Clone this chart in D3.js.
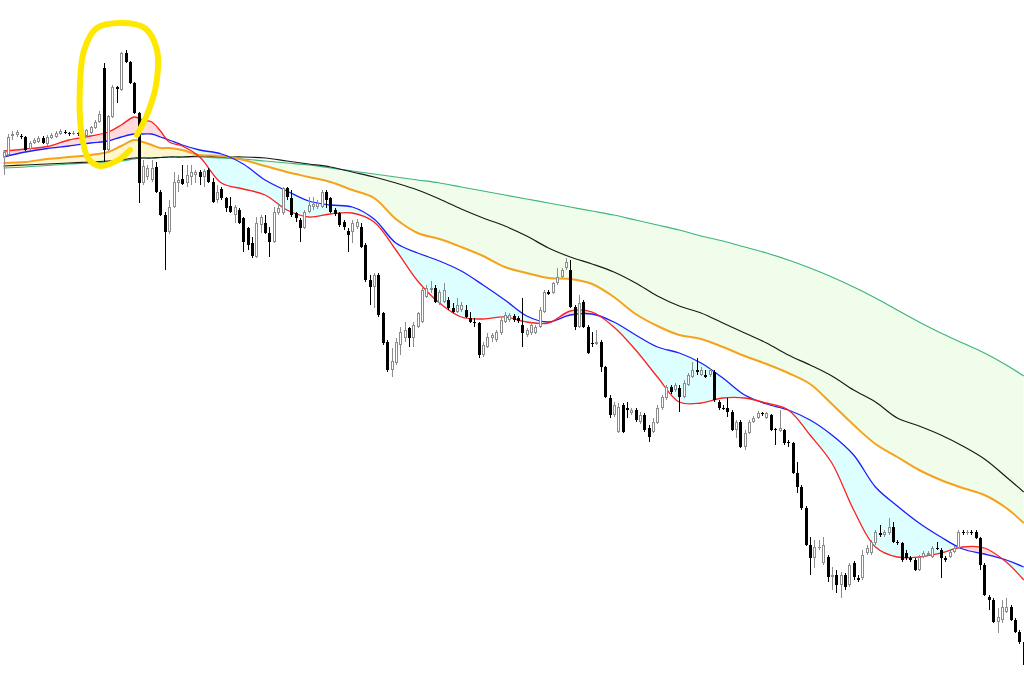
<!DOCTYPE html>
<html>
<head>
<meta charset="utf-8">
<script src="https://cdn.jsdelivr.net/npm/d3@7"></script>
<style>
    html, body { margin: 0; padding: 0; background: #fff; overflow: hidden; }
    #chart-first { width: 1024px; height: 688px; }
</style>
</head>
<body>
<div id="chart-first"></div>
<script>
//Velas (precio)
let openData = [
    148.43, 148.45, 148.64, 148.65, 148.64, 148.63, 148.51, 148.57, 148.58, 148.62,
    148.56, 148.62, 148.63, 148.66, 148.68, 148.67, 148.66, 148.67, 148.64, 148.64,
    148.67, 148.72, 148.78, 149.32, 148.50, 148.83, 149.13, 149.10, 149.47, 149.38,
    149.17, 148.87, 148.17, 148.23, 148.20, 148.33, 148.08, 147.85, 147.68, 147.93,
    148.17, 148.21, 148.17, 148.23, 148.25, 148.28, 148.23, 148.30, 148.18, 148.00,
    148.11, 148.02, 147.94, 147.85, 147.90, 147.82, 147.72, 147.57, 147.43, 147.75,
    147.77, 147.67, 147.58, 147.87, 147.87, 148.12, 148.02, 147.87, 147.80, 147.72,
    147.88, 147.93, 147.93, 147.93, 148.08, 148.02, 147.90, 147.87, 147.78, 147.69,
    147.68, 147.73, 147.73, 147.55, 147.20, 147.13, 147.25, 146.87, 146.58, 146.30,
    146.37, 146.55, 146.62, 146.72, 146.62, 146.73, 146.78, 147.03, 147.10, 147.12,
    146.97, 146.98, 147.00, 146.92, 146.88, 146.90, 146.90, 146.82, 146.78, 146.77,
    146.45, 146.53, 146.62, 146.60, 146.67, 146.78, 146.80, 146.84, 146.82, 146.75,
    146.65, 146.67, 146.67, 146.73, 146.88, 147.08, 147.07, 147.17, 147.23, 147.32,
    147.30, 146.93, 146.73, 146.98, 146.73, 146.57, 146.56, 146.58, 146.33, 146.02,
    145.85, 145.68, 145.95, 145.92, 145.87, 145.90, 145.78, 145.85, 145.72, 145.68,
    145.77, 145.92, 146.02, 146.13, 146.10, 146.12, 146.03, 146.15, 146.23, 146.30,
    146.25, 146.25, 146.25, 146.28, 145.98, 145.92, 145.92, 145.88, 145.70, 145.78,
    145.53, 145.67, 145.78, 145.82, 145.87, 145.82, 145.85, 145.71, 145.69, 145.70,
    145.58, 145.57, 145.27, 145.13, 144.92, 144.55, 144.42, 144.52, 144.37, 144.43,
    144.23, 144.25, 144.15, 144.25, 144.15, 144.37, 144.22, 144.22, 144.47, 144.47,
    144.57, 144.67, 144.65, 144.67, 144.73, 144.58, 144.57, 144.47, 144.42, 144.40,
    144.30, 144.43, 144.45, 144.43, 144.52, 144.50, 144.42, 144.43, 144.48, 144.52,
    144.68, 144.67, 144.68, 144.68, 144.62, 144.35, 144.03, 144.00, 143.78, 143.80,
    143.88, 143.93, 143.80, 143.68, 143.58
];
let highData = [
    148.50, 148.66, 148.69, 148.70, 148.66, 148.64, 148.59, 148.62, 148.64, 148.64,
    148.65, 148.67, 148.69, 148.71, 148.70, 148.68, 148.69, 148.68, 148.69, 148.71,
    148.74, 148.80, 148.89, 149.37, 148.85, 149.15, 149.14, 149.48, 149.50, 149.39,
    149.18, 148.88, 148.40, 148.35, 148.40, 148.38, 148.10, 147.88, 148.00, 148.28,
    148.25, 148.35, 148.35, 148.35, 148.30, 148.30, 148.31, 148.32, 148.22, 148.15,
    148.13, 148.03, 148.03, 147.95, 147.92, 147.83, 147.73, 147.63, 147.83, 147.85,
    147.85, 147.73, 147.93, 147.97, 148.13, 148.13, 148.10, 147.88, 147.82, 147.90,
    148.03, 148.03, 148.00, 148.10, 148.10, 148.03, 147.92, 147.88, 147.80, 147.72,
    147.80, 147.81, 147.77, 147.57, 147.25, 147.27, 147.27, 146.88, 146.60, 146.52,
    146.62, 146.73, 146.78, 146.73, 146.78, 146.88, 147.12, 147.15, 147.19, 147.15,
    147.10, 147.17, 147.03, 146.97, 147.02, 146.98, 146.95, 146.88, 146.82, 146.78,
    146.58, 146.67, 146.67, 146.70, 146.82, 146.88, 146.87, 146.86, 146.84, 147.02,
    146.72, 146.78, 146.75, 146.93, 147.10, 147.10, 147.18, 147.32, 147.32, 147.42,
    147.40, 146.95, 147.05, 147.00, 146.75, 146.68, 146.70, 146.60, 146.34, 146.05,
    145.98, 145.97, 145.97, 145.98, 145.92, 145.92, 145.88, 145.87, 145.75, 145.82,
    145.95, 146.05, 146.15, 146.15, 146.17, 146.15, 146.20, 146.27, 146.38, 146.42,
    146.33, 146.30, 146.32, 146.30, 146.00, 145.95, 146.02, 145.90, 145.80, 145.80,
    145.70, 145.80, 145.84, 145.89, 145.88, 145.88, 145.86, 145.72, 145.90, 145.71,
    145.60, 145.58, 145.38, 145.15, 144.94, 144.63, 144.60, 144.60, 144.63, 144.45,
    144.33, 144.30, 144.28, 144.27, 144.37, 144.39, 144.25, 144.50, 144.55, 144.60,
    144.70, 144.75, 144.70, 144.82, 144.78, 144.60, 144.58, 144.50, 144.44, 144.42,
    144.45, 144.49, 144.49, 144.54, 144.58, 144.52, 144.44, 144.50, 144.54, 144.70,
    144.70, 144.70, 144.70, 144.70, 144.63, 144.37, 144.05, 144.02, 143.92, 144.00,
    144.02, 143.95, 143.82, 143.70, 143.60
];
let lowData = [
    148.25, 148.43, 148.60, 148.63, 148.61, 148.49, 148.50, 148.56, 148.57, 148.56,
    148.54, 148.61, 148.62, 148.65, 148.66, 148.64, 148.65, 148.64, 148.63, 148.63,
    148.66, 148.71, 148.77, 148.38, 148.49, 148.82, 148.97, 149.09, 149.37, 149.16,
    148.86, 147.97, 148.15, 148.20, 148.18, 148.07, 147.84, 147.30, 147.66, 147.92,
    148.08, 148.15, 148.13, 148.15, 148.17, 148.15, 148.13, 148.17, 147.97, 147.97,
    148.00, 147.88, 147.87, 147.77, 147.76, 147.48, 147.50, 147.42, 147.42, 147.67,
    147.66, 147.43, 147.57, 147.85, 147.85, 148.00, 147.83, 147.78, 147.58, 147.71,
    147.87, 147.90, 147.91, 147.92, 147.92, 147.87, 147.84, 147.73, 147.70, 147.48,
    147.57, 147.71, 147.52, 147.18, 146.95, 146.92, 146.83, 146.55, 146.28, 146.23,
    146.35, 146.45, 146.58, 146.53, 146.53, 146.72, 146.77, 147.02, 147.07, 146.97,
    146.95, 146.97, 146.90, 146.87, 146.87, 146.88, 146.82, 146.77, 146.73, 146.42,
    146.43, 146.52, 146.58, 146.58, 146.65, 146.77, 146.78, 146.78, 146.77, 146.53,
    146.63, 146.65, 146.66, 146.72, 146.87, 147.05, 147.06, 147.15, 147.22, 147.30,
    146.92, 146.70, 146.72, 146.72, 146.46, 146.53, 146.55, 146.28, 146.02, 145.82,
    145.83, 145.67, 145.67, 145.82, 145.85, 145.78, 145.76, 145.68, 145.58, 145.67,
    145.76, 145.90, 146.00, 146.06, 146.08, 145.88, 146.02, 146.14, 146.22, 146.25,
    146.24, 146.22, 146.23, 145.98, 145.90, 145.90, 145.83, 145.69, 145.62, 145.52,
    145.50, 145.66, 145.77, 145.81, 145.84, 145.81, 145.69, 145.55, 145.68, 145.55,
    145.53, 145.26, 145.07, 144.90, 144.54, 144.25, 144.32, 144.50, 144.35, 144.18,
    144.10, 144.07, 144.02, 144.10, 144.13, 144.20, 144.18, 144.20, 144.45, 144.45,
    144.55, 144.63, 144.63, 144.65, 144.57, 144.55, 144.38, 144.40, 144.38, 144.29,
    144.29, 144.42, 144.44, 144.42, 144.50, 144.22, 144.38, 144.42, 144.47, 144.51,
    144.65, 144.65, 144.65, 144.61, 144.30, 144.04, 143.90, 143.77, 143.67, 143.77,
    143.87, 143.79, 143.67, 143.56, 143.33
];
let closeData = [
    148.48, 148.63, 148.66, 148.68, 148.63, 148.50, 148.57, 148.60, 148.62, 148.57,
    148.63, 148.65, 148.67, 148.69, 148.67, 148.66, 148.67, 148.66, 148.67, 148.70,
    148.73, 148.78, 148.86, 148.50, 148.84, 149.13, 149.11, 149.47, 149.38, 149.17,
    148.87, 148.17, 148.34, 148.32, 148.32, 148.08, 147.85, 147.68, 147.93, 148.18,
    148.20, 148.16, 148.25, 148.28, 148.28, 148.23, 148.29, 148.18, 147.98, 148.08,
    148.02, 147.92, 147.88, 147.93, 147.77, 147.58, 147.55, 147.44, 147.77, 147.83,
    147.67, 147.58, 147.88, 147.92, 148.12, 148.03, 147.85, 147.82, 147.72, 147.88,
    147.95, 147.96, 147.97, 148.08, 148.00, 147.88, 147.86, 147.75, 147.73, 147.65,
    147.77, 147.78, 147.53, 147.20, 147.13, 147.25, 146.85, 146.57, 146.30, 146.39,
    146.58, 146.68, 146.70, 146.62, 146.75, 146.87, 147.10, 147.12, 147.12, 146.98,
    147.08, 147.10, 146.92, 146.88, 146.95, 146.95, 146.83, 146.78, 146.77, 146.45,
    146.55, 146.63, 146.65, 146.68, 146.80, 146.85, 146.85, 146.80, 146.79, 146.67,
    146.70, 146.75, 146.73, 146.90, 147.08, 147.06, 147.17, 147.23, 147.30, 147.38,
    146.93, 146.73, 146.97, 146.73, 146.47, 146.56, 146.58, 146.33, 146.03, 145.85,
    145.95, 145.93, 145.68, 145.90, 145.90, 145.80, 145.85, 145.70, 145.63, 145.78,
    145.92, 146.03, 146.13, 146.08, 146.15, 146.03, 146.17, 146.25, 146.30, 146.28,
    146.30, 146.23, 146.30, 146.00, 145.92, 145.91, 145.88, 145.70, 145.78, 145.53,
    145.67, 145.78, 145.82, 145.87, 145.86, 145.87, 145.70, 145.70, 145.72, 145.57,
    145.57, 145.27, 145.13, 144.92, 144.55, 144.42, 144.53, 144.53, 144.55, 144.23,
    144.25, 144.15, 144.25, 144.13, 144.35, 144.23, 144.20, 144.45, 144.52, 144.58,
    144.68, 144.65, 144.68, 144.73, 144.58, 144.57, 144.40, 144.42, 144.40, 144.30,
    144.43, 144.47, 144.47, 144.52, 144.51, 144.42, 144.40, 144.48, 144.52, 144.68,
    144.67, 144.68, 144.67, 144.62, 144.35, 144.05, 144.00, 143.78, 143.83, 143.93,
    143.93, 143.80, 143.68, 143.58, 143.35
];

//Medias móviles, muestreadas en estas velas
let maIndex = [0, 5, 10, 15, 20, 24, 27, 30, 32, 34, 36, 38, 41, 45, 50, 55, 60, 65, 70, 75,
    80, 85, 90, 95, 100, 105, 110, 115, 120, 125, 130, 135, 140, 145, 150, 155, 160, 165, 170, 175,
    180, 185, 190, 195, 200, 205, 210, 215, 220, 225, 230, 234];
let maRed = [148.49, 148.51, 148.535, 148.60, 148.64, 148.68, 148.75, 148.83, 148.80, 148.78,
    148.69, 148.58, 148.54, 148.43, 148.17, 148.11, 148.05, 147.90, 147.83, 147.86,
    147.87, 147.78, 147.50, 147.19, 146.97, 146.83, 146.81, 146.83, 146.78, 146.77,
    146.89, 146.88, 146.73, 146.50, 146.23, 145.98, 145.97, 146.02, 146.02, 145.97,
    145.90, 145.65, 145.37, 144.90, 144.53, 144.43, 144.43, 144.47, 144.53, 144.52,
    144.38, 144.20];
let maBlue = [148.43, 148.48, 148.515, 148.54, 148.57, 148.59, 148.63, 148.66, 148.66, 148.66,
    148.63, 148.60, 148.55, 148.50, 148.46, 148.36, 148.20, 148.09, 147.99, 147.95,
    147.93, 147.81, 147.57, 147.47, 147.39, 147.29, 147.15, 147.00, 146.84, 146.78,
    146.85, 146.86, 146.78, 146.65, 146.53, 146.47, 146.37, 146.22, 146.05, 145.96,
    145.90, 145.80, 145.65, 145.45, 145.13, 144.94, 144.77, 144.63, 144.51, 144.46,
    144.40, 144.33];
let maOrange = [148.37, 148.38, 148.41, 148.43, 148.45, 148.48, 148.54, 148.60, 148.58, 148.55,
    148.52, 148.52, 148.50, 148.45, 148.44, 148.40, 148.34, 148.28, 148.23, 148.18,
    148.10, 148.02, 147.81, 147.67, 147.61, 147.53, 147.44, 147.33, 147.27, 147.22,
    147.21, 147.16, 147.03, 146.86, 146.74, 146.65, 146.61, 146.53, 146.44, 146.36,
    146.27, 146.16, 145.96, 145.75, 145.56, 145.43, 145.30, 145.20, 145.12, 145.05,
    144.92, 144.77];
let maBlack = [148.34, 148.35, 148.36, 148.37, 148.38, 148.39, 148.40, 148.42, 148.42, 148.42,
    148.425, 148.43, 148.43, 148.44, 148.43, 148.43, 148.42, 148.39, 148.36, 148.33,
    148.28, 148.23, 148.17, 148.10, 148.01, 147.91, 147.82, 147.74, 147.64, 147.52,
    147.43, 147.36, 147.28, 147.17, 147.04, 146.94, 146.87, 146.77, 146.67, 146.57,
    146.45, 146.35, 146.24, 146.10, 145.98, 145.82, 145.74, 145.65, 145.54, 145.41,
    145.23, 145.08];
let maGreen = [148.32, 148.33, 148.345, 148.36, 148.37, 148.38, 148.39, 148.41, 148.42, 148.42,
    148.425, 148.43, 148.43, 148.43, 148.42, 148.41, 148.39, 148.37, 148.35, 148.32,
    148.29, 148.26, 148.23, 148.20, 148.17, 148.13, 148.09, 148.05, 148.01, 147.97,
    147.93, 147.89, 147.85, 147.80, 147.75, 147.70, 147.64, 147.59, 147.53, 147.47,
    147.40, 147.32, 147.23, 147.13, 147.02, 146.90, 146.78, 146.67, 146.57, 146.47,
    146.35, 146.24];

//Anotación: círculo amarillo (vela, precio)
let ringPoints = [
    [29.0, 148.50], [26.3, 148.40], [22.1, 148.34], [19.4, 148.42], [17.8, 148.70],
    [17.5, 149.10], [18.5, 149.50], [21.4, 149.72], [26.7, 149.77], [32.4, 149.72],
    [35.2, 149.50], [35.0, 149.15], [32.9, 148.85], [30.6, 148.65]
];

//Colores
let up_color = '#8c8c8c', down_color = '#000000';

function getFirstChart() {
    let chartBlock = d3.select('#chart-first');
    let margin = {top: 0, right: 0, bottom: 0, left: 0};
    let {width, height, chart} = setChart(chartBlock, margin);

    let candles = openData.map(function(d, i) {
        return {i: i, open: openData[i], high: highData[i], low: lowData[i], close: closeData[i]};
    });

    //Escalas
    let x = d3.scaleLinear()
        .domain([0, candles.length - 1])
        .range([3.5, 1023.7]);

    let y = d3.scaleLinear()
        .domain([143.12, 150])
        .range([height, 0]);

    let ma = maIndex.map(function(d, i) {
        return {i: d, red: maRed[i], blue: maBlue[i], orange: maOrange[i], black: maBlack[i], green: maGreen[i]};
    });

    let curve = d3.curveCatmullRom.alpha(0.5);
    let defs = chart.append('defs');

    //Recortes: por encima / por debajo de una línea
    function addClip(id, key, above) {
        defs.append('clipPath')
            .attr('id', id)
            .append('path')
            .attr('d', d3.area()
                .x(function(d) { return x(d.i); })
                .y0(above ? -10 : height + 10)
                .y1(function(d) { return y(d[key]); })
                .curve(curve)(ma));
    }
    addClip('clip-above-green', 'green', true);
    addClip('clip-below-green', 'green', false);
    addClip('clip-above-blue', 'blue', true);
    addClip('clip-below-blue', 'blue', false);

    function band(a, b) {
        return d3.area()
            .x(function(d) { return x(d.i); })
            .y0(function(d) { return y(d[a]); })
            .y1(function(d) { return y(d[b]); })
            .curve(curve)(ma);
    }

    //Nubes
    chart.append('path').attr('d', band('orange', 'green'))
        .attr('fill', '#fff6cf').attr('clip-path', 'url(#clip-above-green)');
    chart.append('path').attr('d', band('orange', 'green'))
        .attr('fill', '#effdea').attr('clip-path', 'url(#clip-below-green)');
    chart.append('path').attr('d', band('red', 'blue'))
        .attr('fill', '#ffdcdc').attr('clip-path', 'url(#clip-above-blue)');
    chart.append('path').attr('d', band('red', 'blue'))
        .attr('fill', '#ddffff').attr('clip-path', 'url(#clip-below-blue)');

    //Líneas de medias
    let lines = [
        {key: 'green', color: '#3db57c', w: 1.2},
        {key: 'black', color: '#1a1a1a', w: 1.2},
        {key: 'orange', color: '#f5a21c', w: 2},
        {key: 'blue', color: '#1c1cff', w: 1.3},
        {key: 'red', color: '#ff1f1f', w: 1.3}
    ];
    lines.forEach(function(l) {
        chart.append('path')
            .attr('d', d3.line()
                .x(function(d) { return x(d.i); })
                .y(function(d) { return y(d[l.key]); })
                .curve(curve)(ma))
            .attr('fill', 'none')
            .attr('stroke', l.color)
            .attr('stroke-width', l.w);
    });

    //Velas
    let candle = chart.append('g')
        .attr('shape-rendering', 'crispEdges')
        .selectAll('.candle')
        .data(candles)
        .enter()
        .append('g')
        .attr('class', 'candle');

    candle.append('line')
        .attr('x1', function(d) { return Math.round(x(d.i)) + 0.5; })
        .attr('x2', function(d) { return Math.round(x(d.i)) + 0.5; })
        .attr('y1', function(d) { return Math.round(y(d.high)); })
        .attr('y2', function(d) { return Math.round(y(d.low)); })
        .attr('stroke', function(d) { return d.close >= d.open ? up_color : down_color; })
        .attr('stroke-width', 1);

    candle.each(function(d) {
        let g = d3.select(this);
        let cx = Math.round(x(d.i));
        let top = Math.round(y(Math.max(d.open, d.close)));
        let bot = Math.round(y(Math.min(d.open, d.close)));
        if (d.close < d.open) {
            g.append('rect')
                .attr('x', cx - 1).attr('y', top)
                .attr('width', 3).attr('height', Math.max(1, bot - top))
                .attr('fill', down_color);
        } else if (bot - top < 2) {
            g.append('rect')
                .attr('x', cx - 1).attr('y', top)
                .attr('width', 3).attr('height', 1)
                .attr('fill', up_color);
        } else {
            g.append('rect')
                .attr('x', cx - 0.5).attr('y', top + 0.5)
                .attr('width', 2).attr('height', bot - top - 1)
                .attr('fill', '#ffffff')
                .attr('stroke', up_color)
                .attr('stroke-width', 1);
        }
    });

    //Círculo amarillo
    chart.append('path')
        .attr('d', d3.line()
            .x(function(d) { return x(d[0]); })
            .y(function(d) { return y(d[1]); })
            .curve(d3.curveCatmullRom)(ringPoints))
        .attr('fill', 'none')
        .attr('stroke', '#ffe800')
        .attr('stroke-width', 6)
        .attr('stroke-linecap', 'round')
        .attr('stroke-linejoin', 'round');
}

getFirstChart();

/* Inicialización del gráfico */
function setChart(chartBlock, margin) {
    let width = parseInt(chartBlock.style('width')) - margin.left - margin.right,
    height = parseInt(chartBlock.style('height')) - margin.top - margin.bottom;

    let chart = chartBlock
        .append('svg')
        .attr('width', width + margin.left + margin.right)
        .attr('height', height + margin.top + margin.bottom)
        .style('display', 'block')
        .append('g')
        .attr('transform', 'translate(' + margin.left + ',' + margin.top + ')');

    return {margin, width, height, chart};
}
</script>
</body>
</html>
